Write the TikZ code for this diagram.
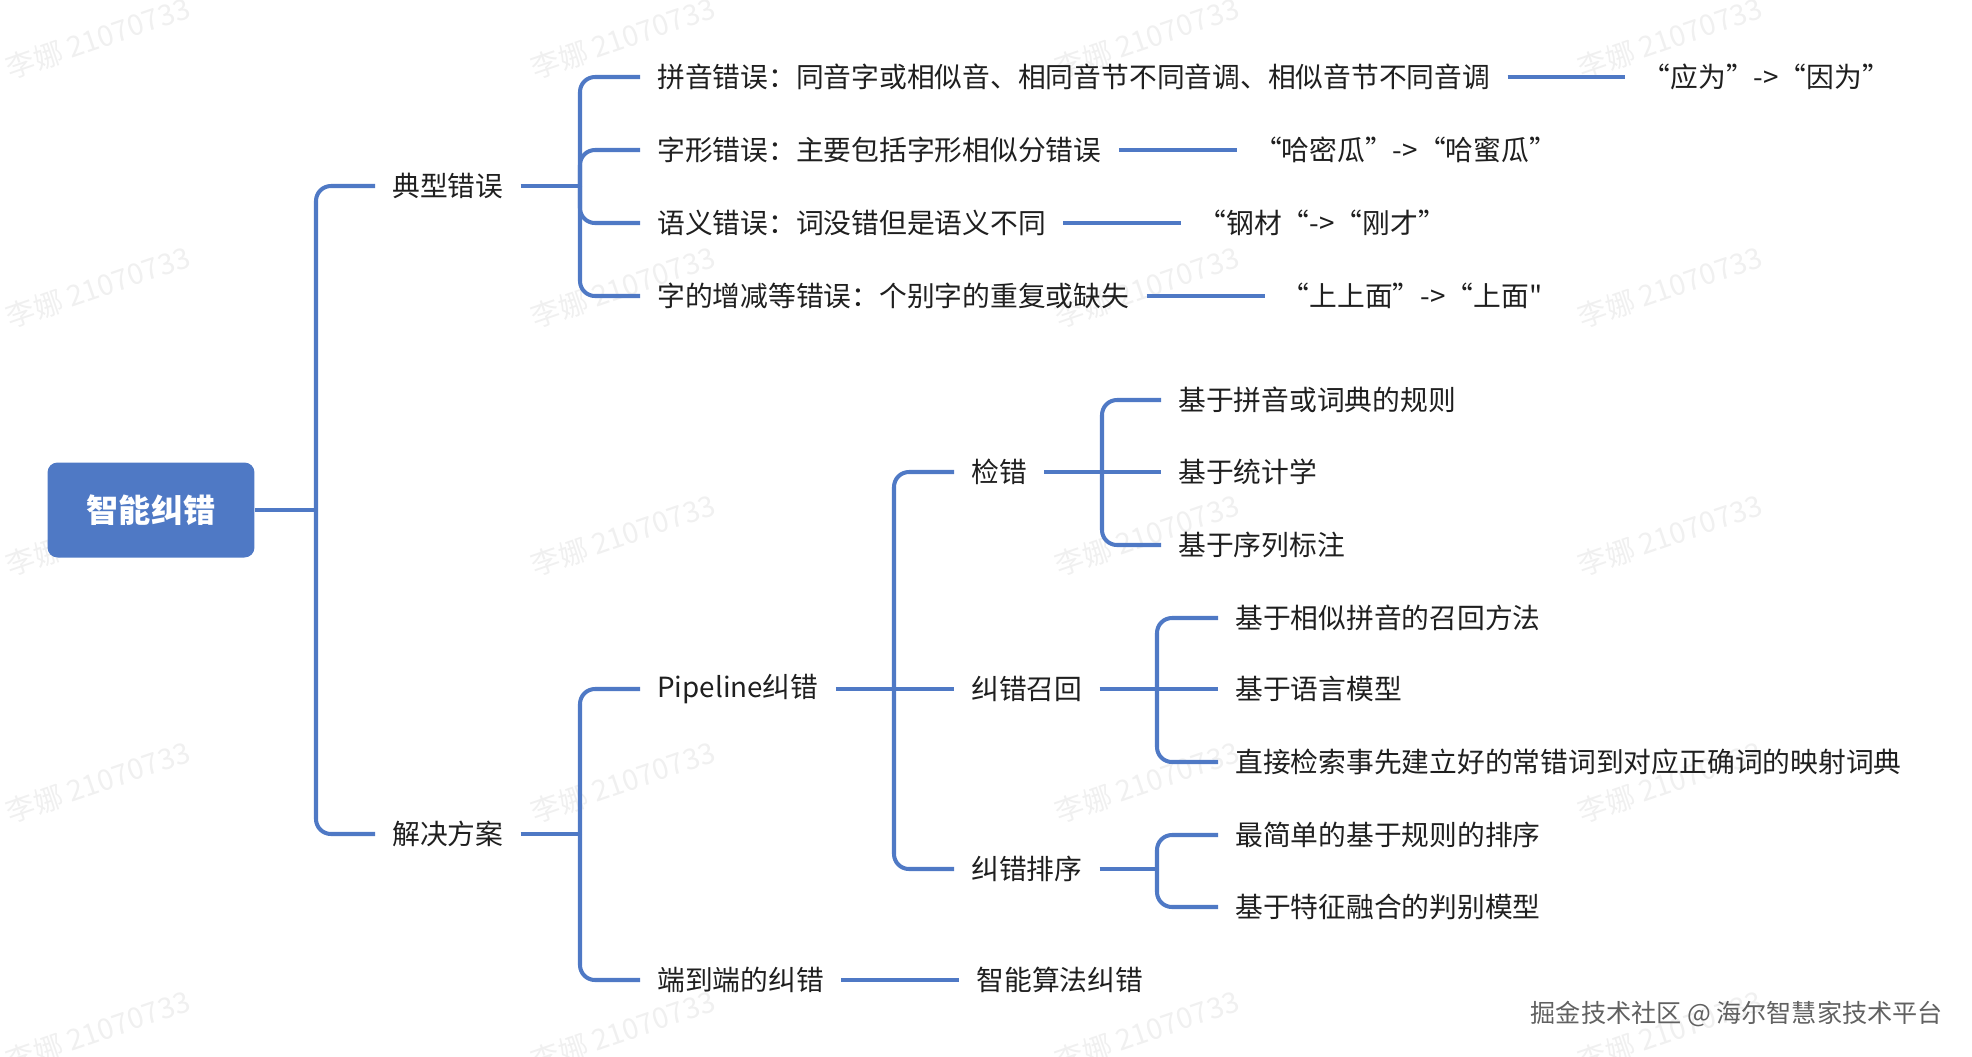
\documentclass[tikz,border=0pt]{standalone}
\usepackage{fontspec}
\newfontfamily\cjk{Noto Sans CJK SC}
\usepackage{xcolor}
\usetikzlibrary{positioning}
\definecolor{mmblue}{RGB}{79,121,197}
\definecolor{wmgray}{RGB}{240,240,240}

\begin{document}
\begin{tikzpicture}[
    x=0.02cm, y=-0.02cm,
    font=\cjk\fontsize{15.8}{19}\selectfont,
    node distance=2.36cm,
    item/.style={
      anchor=west,
      inner xsep=0.34cm,
      inner ysep=3pt,
      text=black!88
    },
    branch/.style={
      draw=mmblue,
      line width=2.3pt,
      rounded corners=0.3cm
    },
    rootbox/.style={
      rectangle,
      fill=mmblue,
      rounded corners=0.2cm,
      minimum width=4.14cm,
      minimum height=1.9cm,
      text=white,
      font=\cjk\bfseries\fontsize{18.3}{22}\selectfont
    },
    wmark/.style={
      text=wmgray,
      rotate=19,
      font=\cjk\fontsize{16.4}{19}\selectfont
    }
  ]
  \useasboundingbox (0,0) rectangle (1972,1056);
  % watermark grid
  \foreach \wx in {98,623,1147,1670}
    \foreach \wy in {38,287,535,782,1031}
      \node[wmark] at (\wx,\wy) {李娜 21070733};

  \node[rootbox] (root) at (151,510) {智能纠错};
  \node[item] (typ) at (375,186) {典型错误};
  \node[item] (sol) at (375,834) {解决方案};

  % typical errors
  \node[item] (err1) at (640,77) {拼音错误：同音字或相似音、相同音节不同音调、相似音节不同音调};
  \node[item] (err2) at (640,150) {字形错误：主要包括字形相似分错误};
  \node[item] (err3) at (640,223) {语义错误：词没错但是语义不同};
  \node[item] (err4) at (640,296) {字的增减等错误：个别字的重复或缺失};
  \node[item, right=of err1] (ex1) {“应为”->“因为”};
  \node[item, right=of err2] (ex2) {“哈密瓜”->“哈蜜瓜”};
  \node[item, right=of err3] (ex3) {“钢材“->“刚才”};
  \node[item, right=of err4] (ex4) {“上上面”->“上面"};

  % solutions
  \node[item] (pipe) at (640,689) {Pipeline纠错};
  \node[item] (e2e) at (640,980) {端到端的纠错};
  \node[item, right=of e2e] (e2eex) {智能算法纠错};
  \node[item] (det) at (954,472) {检错};
  \node[item] (rec) at (954,689) {纠错召回};
  \node[item] (rank) at (954,869) {纠错排序};
  \node[item] (det1) at (1161,400) {基于拼音或词典的规则};
  \node[item] (det2) at (1161,472) {基于统计学};
  \node[item] (det3) at (1161,545) {基于序列标注};
  \node[item] (rec1) at (1218,618) {基于相似拼音的召回方法};
  \node[item] (rec2) at (1218,689) {基于语言模型};
  \node[item] (rec3) at (1218,762) {直接检索事先建立好的常错词到对应正确词的映射词典};
  \node[item] (rank1) at (1218,835) {最简单的基于规则的排序};
  \node[item] (rank2) at (1218,907) {基于特征融合的判别模型};

  \node[anchor=east, inner sep=0pt, text=black!62, font=\cjk\fontsize{14.3}{18}\selectfont] (credit) at (1943,1014) {掘金技术社区 @ 海尔智慧家技术平台};

  % junctions
  \coordinate (j0) at (316,510);
  \coordinate (j1) at (580,186);
  \coordinate (j2) at (580,834);
  \coordinate (j3) at (894,689);
  \coordinate (j4) at (1102,472);
  \coordinate (j5) at (1157,689);
  \coordinate (j6) at (1157,869);

  \draw[branch] (root.east) -- (j0);
  \draw[branch] (j0) |- (typ.west);
  \draw[branch] (j0) |- (sol.west);

  \draw[branch] (typ.east) -- (j1);
  \foreach \n in {1,2,3,4} {
    \draw[branch] (j1) |- (err\n.west);
    \draw[branch] (err\n.east) -- (ex\n.west);
  }

  \draw[branch] (sol.east) -- (j2);
  \draw[branch] (j2) |- (pipe.west);
  \draw[branch] (j2) |- (e2e.west);
  \draw[branch] (e2e.east) -- (e2eex.west);

  \draw[branch] (pipe.east) -- (j3) -- (rec.west);
  \draw[branch] (j3) |- (det.west);
  \draw[branch] (j3) |- (rank.west);

  \draw[branch] (det.east) -- (j4) -- (det2.west);
  \draw[branch] (j4) |- (det1.west);
  \draw[branch] (j4) |- (det3.west);

  \draw[branch] (rec.east) -- (j5) -- (rec2.west);
  \draw[branch] (j5) |- (rec1.west);
  \draw[branch] (j5) |- (rec3.west);

  \draw[branch] (rank.east) -- (j6);
  \draw[branch] (j6) |- (rank1.west);
  \draw[branch] (j6) |- (rank2.west);
\end{tikzpicture}
\end{document}
